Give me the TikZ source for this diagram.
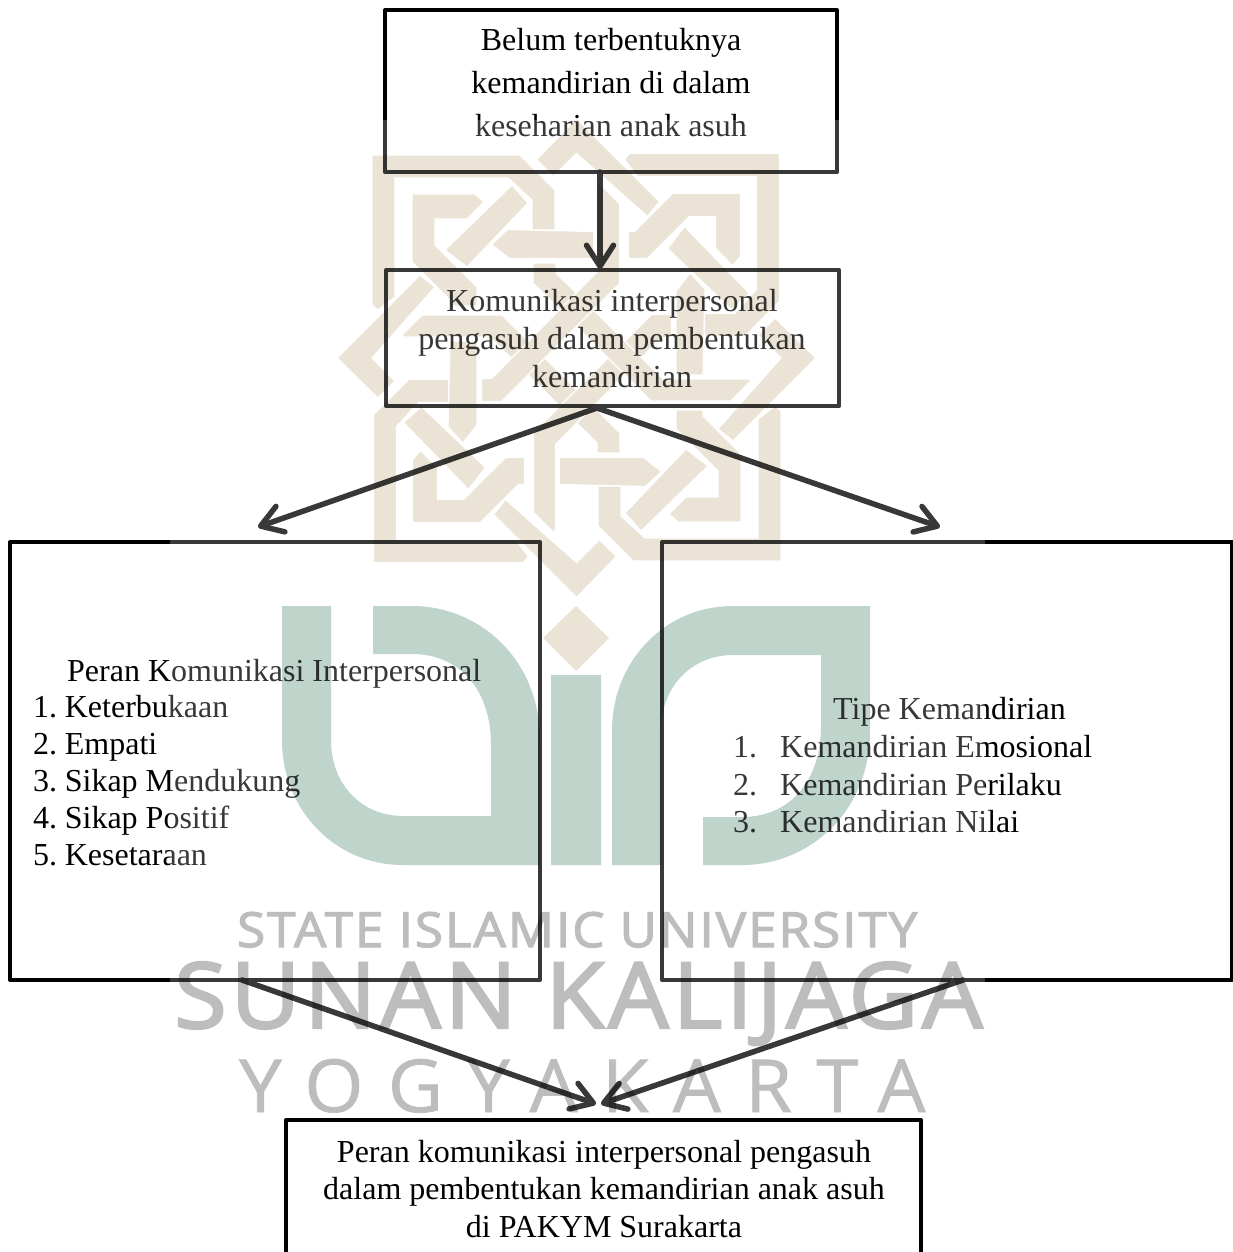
\documentclass[tikz,border=0pt]{standalone}
\usepackage{fontspec}
\setmainfont{Liberation Serif}
\newfontfamily\wmfont[FakeBold=2.5,LetterSpace=4]{Open Sans}
\newfontfamily\wmspaced[FakeBold=1,LetterSpace=32]{Open Sans}
\usetikzlibrary{arrows.meta}
\definecolor{wmtan}{HTML}{EBE4D6}
\definecolor{wmgreen}{HTML}{BFD4CA}
\definecolor{wmgrey}{HTML}{BDBDBD}
\tikzset{
  boxnode/.style={draw=black,line width=4pt,inner sep=0pt,rectangle,fill=none,line join=round},
  txt/.style={align=center,inner sep=0pt,text=black},
  listtxt/.style={font=\fontsize{32}{37}\selectfont,anchor=base west,inner sep=0pt,text=black},
  conn/.style={draw=black,line width=5.5pt,-{Straight Barb[round,length=21pt,width=27pt,line width=5.5pt]},line cap=round},
  knot/.style={fill=wmtan,draw=white,line width=1.2pt},
  wm/.style={inner sep=0pt,text=wmgrey,anchor=base west}
}
\begin{document}
\begin{tikzpicture}[x=1pt,y=-1pt]
\useasboundingbox (0,0) rectangle (1233,1252);
\fill[white] (0,0) rectangle (1233,1252);
% boxes
\node[boxnode,minimum width=452pt,minimum height=162pt] (top) at (611,91) {};
\node[boxnode,minimum width=453pt,minimum height=136pt] (mid) at (612.5,338) {};
\node[boxnode,minimum width=530pt,minimum height=438pt] (left) at (275,761) {};
\node[boxnode,minimum width=570pt,minimum height=438pt] (right) at (947,761) {};
\node[boxnode,minimum width=635pt,minimum height=142pt] (bottom) at (603.5,1191) {};
% texts
\node[txt,font=\fontsize{32}{43}\selectfont] (toptext) at (611,83) {Belum terbentuknya\\kemandirian di dalam\\keseharian anak asuh};
\node[txt,font=\fontsize{32}{38}\selectfont] (midtext) at (612,339) {Komunikasi interpersonal\\pengasuh dalam pembentukan\\kemandirian};
\node[listtxt] (lt) at (67,681) {Peran Komunikasi Interpersonal};
\node[listtxt] (l1) at (33,717) {1.\kern-3pt{} Keterbukaan};
\node[listtxt] (l2) at (33,754) {2.\kern-3pt{} Empati};
\node[listtxt] (l3) at (33,791) {3.\kern-3pt{} Sikap Mendukung};
\node[listtxt] (l4) at (33,828) {4.\kern-3pt{} Sikap Positif};
\node[listtxt] (l5) at (33,865) {5.\kern-3pt{} Kesetaraan};
\node[listtxt] (rt) at (833,719) {Tipe Kemandirian};
\node[listtxt] (r1n) at (733,757) {1.};
\node[listtxt] (r1) at (780,757) {Kemandirian Emosional};
\node[listtxt] (r2n) at (733,795) {2.};
\node[listtxt] (r2) at (780,795) {Kemandirian Perilaku};
\node[listtxt] (r3n) at (733,832) {3.};
\node[listtxt] (r3) at (780,832) {Kemandirian Nilai};
\node[txt,font=\fontsize{32}{37.5}\selectfont] (bottext) at (604,1189) {Peran komunikasi interpersonal pengasuh\\dalam pembentukan kemandirian anak asuh\\di PAKYM Surakarta};
% connectors
\coordinate (midL) at (597,408);
\coordinate (midR) at (597,408);
\coordinate (tipL) at (258,527);
\coordinate (tipR) at (940,527);
\coordinate (botL) at (242,980);
\coordinate (botR) at (963,980);
\coordinate (tipB1) at (596,1104);
\coordinate (tipB2) at (601,1104);
\coordinate (ms) at (600,172);
\coordinate (mt) at (600,269);
\draw[conn] (ms) -- (mt);
\draw[conn] (midL) -- (tipL);
\draw[conn] (midR) -- (tipR);
\draw[conn] (botL) -- (tipB1);
\draw[conn] (botR) -- (tipB2);
% the veil of the watermark
\fill[white,opacity=.22] (170,120) rectangle (985,1112);
% watermark
\begin{scope}[transparency group,blend mode=multiply]
\foreach \a in {0,90,180,270}{
\begin{scope}[rotate around={\a:(576.5,358)}]
\path[knot] (337,358) -- (420,275) -- (435,287) -- (372,358) -- (395,381) -- (378,398) -- cycle;
\path[knot] (372,155) -- (520,155) -- (555,190) -- (555,230) -- (532,230) -- (532,200) -- (508,178) -- (395,178) -- (395,297) -- (378,310) -- (372,305) -- cycle;
\path[knot] (402,335) -- (422,315) -- (502,315) -- (620,433) -- (620,453) -- (597,453) -- (597,443) -- (490,337) -- (404,337) -- cycle;
\path[knot] (412,194) -- (475,194) -- (484,202) -- (467,219) -- (435,219) -- (435,245) -- (477,287) -- (477,306) -- (450,306) -- (450,300) -- (412,262) -- cycle;
\path[knot] (477,341) -- (477,425) -- (463,443) -- (448,427) -- (450,341) -- cycle;
\path[knot] (445,250) -- (512,185) -- (528,203) -- (467,267) -- cycle;
\end{scope}}
\path[fill=wmgreen] (282,606) -- (331,606) -- (331,740) .. controls (331,785) and (362,816) .. (403,816) -- (491,816) -- (491,745) .. controls (491,690) and (460,654) .. (412,654) -- (373,654) -- (373,606) -- (412,606) .. controls (480,606) and (540,660) .. (540,740) -- (540,865) -- (403,865) .. controls (335,865) and (282,810) .. (282,740) -- cycle;
\path[fill=wmgreen] (551,675) rectangle (601,865);
\path[fill=wmgreen] (612,865) -- (661,865) -- (661,731) .. controls (661,686) and (692,655) .. (733,655) -- (821,655) -- (821,726) .. controls (821,781) and (790,817) .. (742,817) -- (703,817) -- (703,865) -- (742,865) .. controls (810,865) and (870,811) .. (870,731) -- (870,606) -- (733,606) .. controls (665,606) and (612,661) .. (612,731) -- cycle;
\path[fill=wmtan] (576,606) -- (609,638) -- (576,671) -- (543,638) -- cycle;
\node[wm] (wm1) at (237,947) {\resizebox{680pt}{35pt}{\wmfont STATE ISLAMIC UNIVERSITY}};
\node[wm] (wm2) at (174,1028) {\resizebox{808pt}{66pt}{\wmfont SUNAN KALIJAGA}};
\node[wm] (wm3) at (239,1112) {\resizebox{686pt}{53pt}{\wmspaced YOGYAKARTA}};
\end{scope}
\end{tikzpicture}
\end{document}
